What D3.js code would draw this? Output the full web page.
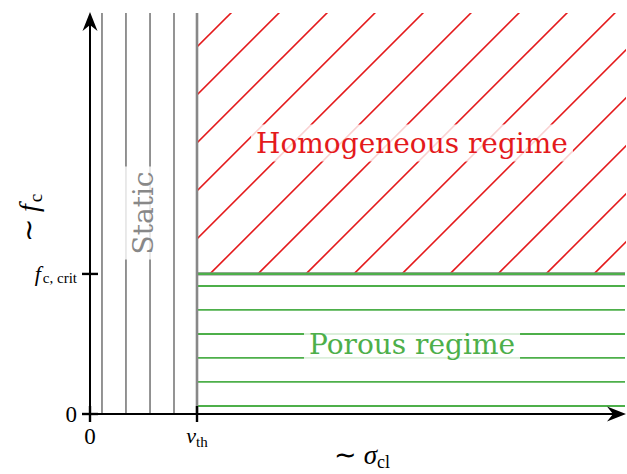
<!DOCTYPE html>
<html><head><meta charset="utf-8">
<script src="https://cdn.jsdelivr.net/npm/d3@7"></script>
<style>body{margin:0;background:#fff}svg{display:block}</style>
</head><body>
<script>
// ---- data (x in units of v_th, y in units of f_c,crit) ----
const vTh = 1.0;
const fcCrit = 1.0;
const staticLines = [0.112, 0.336, 0.561, 0.785];        // gray verticals left of v_th
const porousLines = [0.057, 0.229, 0.400, 0.571, 0.743, 0.914]; // green horizontals
const hatchStarts = [-1.121, -0.673, -0.224, 0.224, 0.673, 1.121, 1.570, 2.019, 2.467, 2.916, 3.364, 3.813, 4.262, 4.710]; // red hatch foot on y=fcCrit
const xTickLabels = ["0", "v_th"];
const yTickLabels = ["0", "f_c, crit"];
const regimeLabels = ["Homogeneous regime", "Porous regime", "Static"];

const W = 627, H = 474;
const xMax = 5.0, yMax = 2.87;
const x = d3.scaleLinear().domain([0, xMax]).range([90, 625]);
const y = d3.scaleLinear().domain([0, yMax]).range([414, 12]);

const svg = d3.select("body").append("svg").attr("width", W).attr("height", H);
const red = "#e41a1c", green = "#4daf4a", gray = "#888888";

// clip for hatch
svg.append("clipPath").attr("id", "hclip").append("rect")
  .attr("x", x(vTh)).attr("y", y(yMax) + 1)
  .attr("width", x(xMax) - x(vTh) + 1).attr("height", y(fcCrit) - y(yMax) - 1);

// red hatch (45 deg in screen space)
svg.append("g").attr("clip-path", "url(#hclip)").selectAll("line").data(hatchStarts).join("line")
  .attr("x1", d => x(d)).attr("y1", y(fcCrit))
  .attr("x2", d => x(d) + 400).attr("y2", y(fcCrit) - 400)
  .attr("stroke", red).attr("stroke-width", 1.6);

// green horizontals
svg.append("g").selectAll("line").data(porousLines).join("line")
  .attr("x1", x(vTh)).attr("x2", x(xMax))
  .attr("y1", d => y(d)).attr("y2", d => y(d))
  .attr("stroke", green).attr("stroke-width", 1.8);

// boundary f_c,crit
svg.append("line").attr("x1", x(vTh)).attr("x2", x(xMax)).attr("y1", y(fcCrit)).attr("y2", y(fcCrit))
  .attr("stroke", gray).attr("stroke-width", 3.2);
svg.append("line").attr("x1", x(vTh)).attr("x2", x(xMax)).attr("y1", y(fcCrit)).attr("y2", y(fcCrit))
  .attr("stroke", green).attr("stroke-width", 2.2);

// gray static lines
svg.append("g").selectAll("line").data(staticLines).join("line")
  .attr("x1", d => x(d)).attr("x2", d => x(d))
  .attr("y1", y(0)).attr("y2", y(yMax) + 1)
  .attr("stroke", gray).attr("stroke-width", 1.8);
// v_th line
svg.append("line").attr("x1", x(vTh)).attr("x2", x(vTh)).attr("y1", y(0)).attr("y2", y(yMax) + 1)
  .attr("stroke", gray).attr("stroke-width", 2.6);

// text with translucent white box
function boxedText(txt, cx, cy, color, size, rotate) {
  const g = svg.append("g").attr("transform", `translate(${cx},${cy}) rotate(${rotate || 0})`);
  const rect = g.append("rect").attr("fill", "#fff").attr("fill-opacity", 0.8);
  const t = g.append("text").text(txt).attr("text-anchor", "middle").attr("dominant-baseline", "central")
    .attr("font-family", "DejaVu Serif").attr("font-size", size).attr("fill", color);
  const b = t.node().getBBox();
  rect.attr("x", b.x - 5).attr("y", b.y - 2).attr("width", b.width + 10).attr("height", b.height + 4);
}
boxedText(regimeLabels[0], (x(vTh) + x(xMax)) / 2 + 1, 143, red, 28);
boxedText(regimeLabels[1], (x(vTh) + x(xMax)) / 2 + 1, 344, green, 28);
boxedText(regimeLabels[2], 143, 213, gray, 28, -90);

// axes
const ax = svg.append("g").attr("stroke", "#000").attr("stroke-width", 2);
ax.append("line").attr("x1", x(0) - 8).attr("x2", x(xMax) - 8).attr("y1", y(0)).attr("y2", y(0));
ax.append("line").attr("x1", x(0)).attr("x2", x(0)).attr("y1", y(0) + 8).attr("y2", y(yMax) + 8);
// ticks
ax.append("line").attr("x1", x(vTh)).attr("x2", x(vTh)).attr("y1", y(0) - 8).attr("y2", y(0) + 8).attr("stroke-width", 2.4);
ax.append("line").attr("x1", x(0) - 8).attr("x2", x(0) + 8).attr("y1", y(fcCrit)).attr("y2", y(fcCrit)).attr("stroke-width", 2.4);
ax.append("line").attr("x1", x(0) - 8).attr("x2", x(0) + 8).attr("y1", y(0)).attr("y2", y(0)).attr("stroke-width", 2.4);
ax.append("line").attr("x1", x(0)).attr("x2", x(0)).attr("y1", y(0) - 8).attr("y2", y(0) + 8).attr("stroke-width", 2.4);

// arrowheads (stealth)
function arrow(tx, ty, angle) {
  svg.append("path").attr("d", "M0,0 L-19,-7.5 L-13,0 L-19,7.5 Z")
    .attr("fill", "#000").attr("transform", `translate(${tx},${ty}) rotate(${angle})`);
}
arrow(x(xMax) + 1, y(0), 0);
arrow(x(0), y(yMax), -90);

// tick labels
const mathFont = "Liberation Serif";
svg.append("text").attr("x", x(0)).attr("y", y(0) + 30).attr("text-anchor", "middle")
  .attr("font-family", mathFont).attr("font-size", 23).text(xTickLabels[0]);
svg.append("text").attr("x", x(0) - 13).attr("y", y(0) + 8).attr("text-anchor", "end")
  .attr("font-family", mathFont).attr("font-size", 23).text(yTickLabels[0]);

const vt = svg.append("text").attr("x", x(vTh)).attr("y", y(0) + 29).attr("text-anchor", "middle")
  .attr("font-family", mathFont).attr("font-size", 22);
vt.append("tspan").attr("font-style", "italic").text("v");
vt.append("tspan").attr("font-size", 15).attr("dy", 4).text("th");

const fc = svg.append("text").attr("x", x(0) - 13).attr("y", y(fcCrit) + 7).attr("text-anchor", "end")
  .attr("font-family", mathFont).attr("font-size", 22);
fc.append("tspan").attr("font-style", "italic").text("f");
fc.append("tspan").attr("font-size", 15).attr("dy", 2).attr("dx", 2).text("c, crit");

// axis titles
const xt = svg.append("text").attr("x", 362).attr("y", 464).attr("text-anchor", "middle")
  .attr("font-family", mathFont).attr("font-size", 27);
xt.append("tspan").text("∼ ");
xt.append("tspan").attr("font-style", "italic").text("σ");
xt.append("tspan").attr("font-size", 18).attr("dy", 4).text("cl");

const yt = svg.append("text").attr("transform", "translate(38,218) rotate(-90)").attr("text-anchor", "middle")
  .attr("font-family", mathFont).attr("font-size", 28);
yt.append("tspan").text("∼ ");
yt.append("tspan").attr("font-style", "italic").text("f");
yt.append("tspan").attr("font-size", 19).attr("dy", 4).attr("dx", 2).text("c");
</script>
</body></html>
